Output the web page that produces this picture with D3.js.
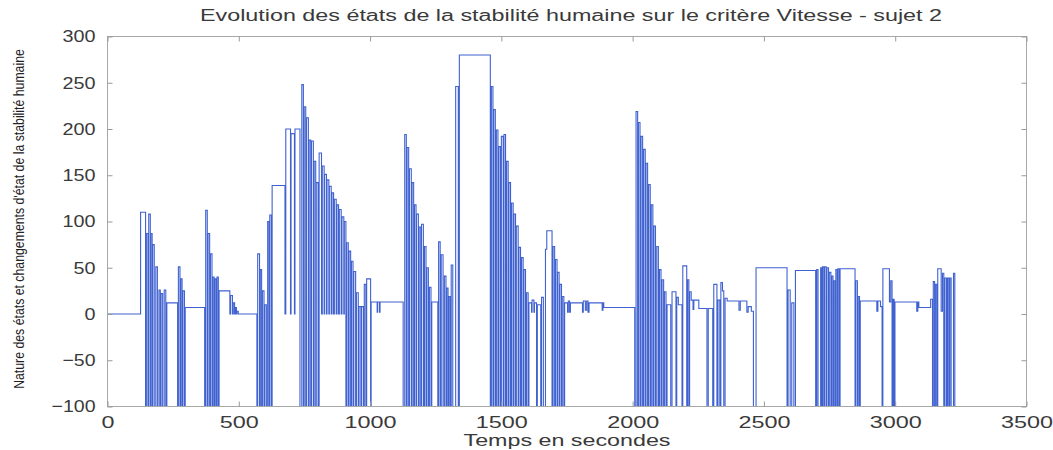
<!DOCTYPE html>
<html><head><meta charset="utf-8">
<script src="https://cdn.jsdelivr.net/npm/d3@7"></script>
<style>
body{margin:0;background:#fff;}
text{font-family:"Liberation Sans",Arial,sans-serif;}
</style></head>
<body><svg id="c" width="1053" height="450"></svg>
<script>
const title = "Evolution des états de la stabilité humaine sur le critère Vitesse - sujet 2";
const xLabel = "Temps en secondes";
const yLabel = "Nature des états et changements d'état de la stabilité humaine";
const xTicks = [0,500,1000,1500,2000,2500,3000,3500];
const yTicks = [-100,-50,0,50,100,150,200,250,300];
// step signal: [time (s), state value held from that time]
const signal = [
[0,0],[126,110],[145,-100],[148,87],[154,-100],[157,108],[163,-100],[165,87],[170,-100],[172,75],[178,-100],
[184,51],[190,-100],[196,26],[201,-100],[204,22],[210,-100],[216,26],[222,-100],[226,12],[267,-100],[270,51],
[276,-100],[279,38],[284,-100],[287,25],[293,-100],[296,7],[370,-100],[374,112],[380,-100],[383,87],[389,-100],
[392,65],[398,-100],[401,40],[406,-100],[409,38],[414,-100],[417,40],[422,-100],[425,25],[466,0],[469,20],[476,0],
[479,12],[484,0],[487,7],[491,0],[493,3],[498,0],[569,-100],[572,65],[579,-100],[582,48],[587,-100],[590,25],
[596,-100],[599,10],[605,-100],[610,100],[615,-100],[618,107],[624,-100],[627,139],[676,0],[679,200],[697,0],
[699,195],[712,0],[714,200],[733,-100],
[740,248],[746,-100],[749,224],[755,-100],[758,212],[765,-100],[768,188],[774,-100],[777,187],[784,-100],[787,165],
[793,-100],[795,142],[802,-100],[806,174],[815,0],[818,160],[825,0],[827,151],[834,0],[836,145],[843,0],[845,138],
[852,0],[855,131],[861,0],[864,124],[871,0],[874,118],[880,0],[883,113],[890,0],[893,105],[900,0],[902,100],
[908,-100],[911,77],[917,-100],[920,68],[926,-100],[929,57],[935,-100],[938,46],[945,-100],[948,23],[955,-100],
[958,8],[965,-100],[968,8],[975,-100],[978,32],[984,-100],[987,38],[1002,-100],[1004,13],[1027,2],[1029,13],
[1036,2],[1038,13],[1126,-100],
[1132,194],[1138,-100],[1141,180],[1147,-100],[1150,157],[1157,-100],[1160,142],[1166,-100],[1169,118],[1175,-100],
[1177,108],[1184,-100],[1187,94],[1193,-100],[1196,97],[1203,-100],[1207,73],[1213,-100],[1216,50],[1222,-100],
[1226,29],[1232,-100],[1235,13],[1258,-100],[1261,78],[1267,-100],[1271,64],[1278,-100],[1283,41],[1289,-100],
[1292,28],[1297,-100],[1300,19],[1305,-100],[1309,53],[1315,-100],[1326,246],[1336,-100],[1340,280],[1458,-100],
[1462,246],[1468,-100],[1471,221],[1477,-100],[1481,199],[1487,-100],[1490,181],[1496,-100],[1500,192],[1507,-100],
[1510,194],[1516,-100],[1520,165],[1526,-100],[1529,142],[1535,-100],[1539,120],[1545,-100],[1548,108],[1554,-100],
[1557,95],[1564,-100],[1567,72],[1573,-100],[1577,61],[1583,-100],[1586,48],[1592,-100],[1596,23],[1602,-100],
[1605,12],[1615,2],[1617,15],[1624,2],[1626,12],[1634,-100],[1637,10],[1650,-100],[1653,18],[1660,-100],[1668,70],
[1673,90],[1693,-100],[1697,73],[1703,-100],[1706,59],[1712,-100],[1714,45],[1720,-100],[1723,32],[1729,-100],
[1732,19],[1738,-100],[1741,12],[1752,2],[1755,14],[1760,2],[1763,12],[1809,2],[1812,14],[1820,4],[1825,14],
[1830,2],[1834,12],[1884,4],[1887,12],[1890,7],
[2008,-100],[2013,219],[2019,-100],[2022,207],[2028,-100],[2032,192],[2038,-100],[2042,178],[2048,-100],[2051,163],
[2057,-100],[2061,140],[2067,-100],[2071,118],[2077,-100],[2081,95],[2087,-100],[2092,73],[2098,-100],[2102,48],
[2108,-100],[2112,37],[2118,-100],[2121,24],[2127,-100],[2131,10],[2145,-100],[2150,24],[2165,-100],[2168,18],
[2174,10],[2188,-100],[2191,52],[2206,-100],[2209,37],[2214,-100],[2217,24],[2223,15],[2230,5],[2233,15],[2240,15],
[2252,6],[2283,-100],[2288,6],[2305,-100],[2309,32],[2321,-100],[2325,15],[2332,-100],[2336,34],[2342,25],
[2347,-100],[2352,17],[2360,14],[2405,4],[2410,14],[2435,2],[2440,8],[2452,3],[2460,-100],[2470,50],[2588,-100],
[2592,26],[2600,-100],[2606,12],[2614,-100],[2620,47],[2697,-100],[2701,48],[2706,-100],[2716,50],[2720,-100],
[2723,51],[2728,-100],[2731,51],[2737,-100],[2740,50],[2746,-100],[2749,45],[2755,-100],[2758,41],[2763,-100],
[2766,36],[2771,-100],[2774,48],[2779,-100],[2782,49],[2787,-100],[2790,49],[2847,-100],[2850,36],[2856,-100],
[2859,19],[2864,-100],[2867,14],[2930,3],[2934,14],[2944,8],[2950,-100],[2953,49],[2978,13],[2983,36],[2988,-100],
[2992,16],[2996,-100],[2999,13],[3082,3],[3086,13],[3090,7],[3135,16],[3142,-100],[3145,35],[3150,-100],[3153,32],
[3158,-100],[3162,49],[3175,3],[3180,44],[3185,-100],[3189,39],[3195,-100],[3199,39],[3204,-100],[3208,39],
[3213,-100],[3222,44],[3227,-100],[3230,-100]
];

const svg = d3.select("#c");
const L=107.5, R=1026.5, T=36.5, B=406.5;
const x = d3.scaleLinear().domain([0,3500]).range([L,R]);
const y = d3.scaleLinear().domain([-100,300]).range([B,T]);

const line = d3.line().x(d=>x(d[0])).y(d=>y(d[1])).curve(d3.curveStepAfter);
svg.append("path").datum(signal).attr("d",line)
  .attr("fill","none").attr("stroke","#4062d0").attr("stroke-width",1.1);

// box
svg.append("rect").attr("x",L).attr("y",T).attr("width",R-L).attr("height",B-T)
  .attr("fill","none").attr("stroke","#a8a8a8").attr("stroke-width",1);

const fmt = d3.format("d");
const gx = svg.append("g").attr("transform",`translate(0,${B})`)
  .call(d3.axisBottom(x).tickValues(xTicks).tickFormat(fmt).tickSizeInner(-5).tickSizeOuter(0).tickPadding(9));
const gxt = svg.append("g").attr("transform",`translate(0,${T})`)
  .call(d3.axisTop(x).tickValues(xTicks).tickSizeInner(-5).tickSizeOuter(0).tickFormat(""));
const gy = svg.append("g").attr("transform",`translate(${L},0)`)
  .call(d3.axisLeft(y).tickValues(yTicks).tickFormat(fmt).tickSizeInner(-5).tickSizeOuter(0).tickPadding(12));
const gyr = svg.append("g").attr("transform",`translate(${R},0)`)
  .call(d3.axisRight(y).tickValues(yTicks).tickSizeInner(-5).tickSizeOuter(0).tickFormat(""));
[gx,gxt,gy,gyr].forEach(g=>{
  g.select(".domain").remove();
  g.selectAll(".tick line").attr("stroke","#999");
  g.selectAll("text").attr("fill","#3a3a3a").style("font-size","17px").style("font-family","'Liberation Sans',Arial,sans-serif");
});
gx.selectAll(".tick text").each(function(){
  const s=this.textContent; d3.select(this).attr("textLength",s.length*13).attr("lengthAdjust","spacingAndGlyphs");
});
gy.selectAll(".tick text").each(function(){
  const s=this.textContent; const w=s.replace("-","").length*11+(s.includes("-")?7:0);
  d3.select(this).attr("textLength",w).attr("lengthAdjust","spacingAndGlyphs");
});

svg.append("text").attr("x",571).attr("y",21).attr("text-anchor","middle")
  .attr("fill","#3a3a3a").style("font-size","16px")
  .attr("textLength",742).attr("lengthAdjust","spacingAndGlyphs").text(title);
svg.append("text").attr("x",567).attr("y",446).attr("text-anchor","middle")
  .attr("fill","#3a3a3a").style("font-size","17px")
  .attr("textLength",207).attr("lengthAdjust","spacingAndGlyphs").text(xLabel);
svg.append("text").attr("transform","translate(24,219) rotate(-90) scale(1,1.22)").attr("text-anchor","middle")
  .attr("fill","#222").style("font-size","12.3px").text(yLabel);
</script></body></html>
